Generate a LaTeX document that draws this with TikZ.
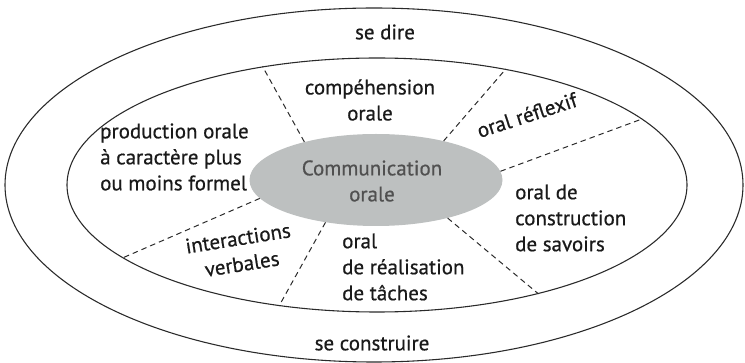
\documentclass[tikz,border=0pt]{standalone}
\usepackage{fontspec}
\setmainfont{PT Sans}
\newfontfamily\lblfont[FakeBold=0.6]{PT Sans}
\usetikzlibrary{shapes.geometric}
\definecolor{trait}{HTML}{2A2A2A}
\definecolor{fond}{HTML}{BDC0C0}
\definecolor{encre}{HTML}{1A1A1A}
\definecolor{grisTexte}{HTML}{505050}
\begin{document}
\begin{tikzpicture}[x=1pt,y=-1pt,
	anneau/.style={ellipse,draw=trait,line width=0.38mm,inner sep=0pt},
	coeur/.style={ellipse,fill=fond,inner sep=0pt},
	sep/.style={draw=trait,line width=0.35mm,dash pattern=on 5.5pt off 4pt},
	lbl/.style={text=encre,font=\lblfont\fontsize{21}{26}\selectfont,inner sep=0pt}]

		\useasboundingbox (0,0) rectangle (745,363);

		\node[anneau,minimum width=738pt,minimum height=354pt] (outer) at (374,185) {};
		\node[anneau,minimum width=620pt,minimum height=254pt] (inner) at (377,185) {};
		\node[coeur,minimum width=253pt,minimum height=92pt] (coeur) at (376,180) {};

		\node[lbl,text=grisTexte,align=center] (comm) at (372,181) {Communication\\orale};

		\draw[sep] (coeur.152) -- (inner.134);
		\draw[sep] (coeur.30) -- (inner.42);
		\draw[sep] (coeur.4) -- (inner.14);
		\draw[sep] (coeur.332) -- (inner.326);
		\draw[sep] (coeur.220) -- (inner.231);
		\draw[sep] (coeur.189) -- (inner.196);

		\node[lbl] (dire) at (385,32) {se dire};
		\node[lbl] (construire) at (372,343) {se construire};

		\node[lbl,align=center] (comprehension) at (370,100) {compéhension\\orale};
		\node[lbl,align=left,anchor=west] (production) at (100,157) {production orale\\à caractère plus\\ou moins formel};
		\node[lbl,rotate=18] (reflexif) at (527,115) {oral réflexif};
		\node[lbl,align=left,anchor=west] (savoirs) at (515,218) {oral de\\construction\\de savoirs};
		\node[lbl,align=left,anchor=west] (taches) at (342,267) {oral\\de réalisation\\de tâches};
		\node[lbl,align=center,rotate=9] (interactions) at (240,251) {interactions\\verbales};

		%\node at (377,185) {inner};

	\end{tikzpicture}
\end{document}
